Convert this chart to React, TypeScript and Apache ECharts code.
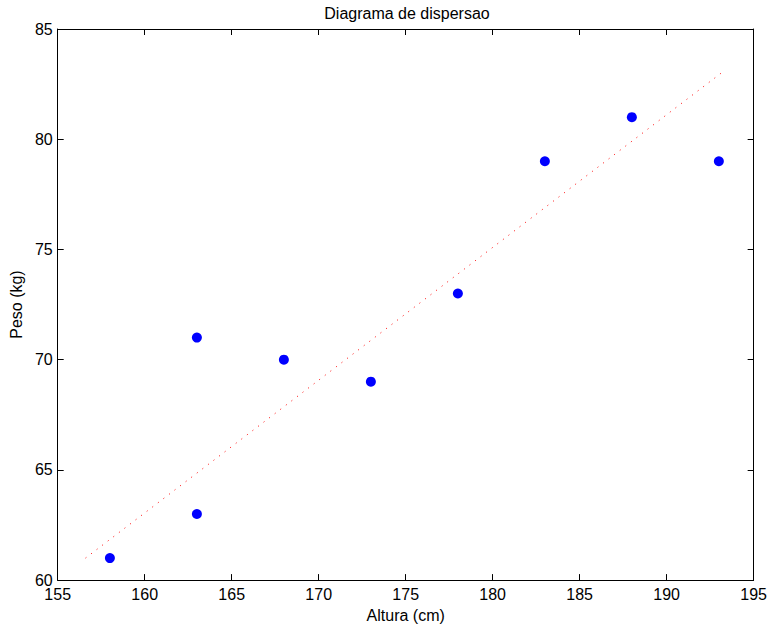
import React, { useEffect, useRef } from "react";
import * as echarts from "echarts";

const alturas = [158, 163, 163, 168, 173, 178, 183, 188, 193];
const pesos = [61, 71, 63, 70, 69, 73, 79, 81, 79];
const fitX = [156.6, 193.3];
const fitY = [61.0, 83.1];
const xTicks = [155, 160, 165, 170, 175, 180, 185, 190, 195];
const yTicks = [60, 65, 70, 75, 80, 85];

const FONT = "Liberation Sans, Arial, Helvetica, sans-serif";

export default function App() {
  const ref = useRef<HTMLDivElement>(null);
  useEffect(() => {
    if (!ref.current) return;
    const chart = echarts.init(ref.current, undefined, { renderer: "svg" });
    const axisBase = {
      axisLine: { show: true, lineStyle: { color: "#000", width: 1 } },
      axisTick: { show: true, inside: true, length: 6, lineStyle: { color: "#000" } },
      splitLine: { show: false },
    };
    const xMin = xTicks[0], xMax = xTicks[xTicks.length - 1];
    const yMin = yTicks[0], yMax = yTicks[yTicks.length - 1];
    chart.setOption({
      animation: false,
      backgroundColor: "#fff",
      textStyle: { fontFamily: FONT },
      graphic: [
        {
          type: "text",
          x: 407,
          y: 13,
          style: {
            text: "Diagrama de dispersao",
            fontFamily: FONT,
            fontSize: 16,
            fill: "#000",
            align: "center",
            verticalAlign: "middle",
          },
        },
      ],
      grid: { left: 54, right: 13, top: 29, bottom: 45, containLabel: false },
      xAxis: [
        {
          ...axisBase,
          type: "value",
          position: "bottom",
          min: xMin,
          max: xMax,
          interval: 5,
          name: "Altura (cm)",
          nameLocation: "middle",
          nameGap: 26,
          nameTextStyle: { fontFamily: FONT, fontSize: 16, color: "#000" },
          axisLabel: { fontFamily: FONT, fontSize: 16, color: "#000", margin: 6 },
        },
        {
          ...axisBase,
          type: "value",
          position: "top",
          min: xMin,
          max: xMax,
          interval: 5,
          axisLabel: { show: false },
        },
      ],
      yAxis: [
        {
          ...axisBase,
          type: "value",
          position: "left",
          min: yMin,
          max: yMax,
          interval: 5,
          name: "Peso (kg)",
          nameLocation: "middle",
          nameRotate: 90,
          nameGap: 27,
          nameTextStyle: { fontFamily: FONT, fontSize: 16, color: "#000" },
          axisLabel: { fontFamily: FONT, fontSize: 16, color: "#000", margin: 5 },
        },
        {
          ...axisBase,
          type: "value",
          position: "right",
          min: yMin,
          max: yMax,
          interval: 5,
          axisLabel: { show: false },
        },
      ],
      series: [
        {
          type: "line",
          xAxisIndex: 0,
          yAxisIndex: 0,
          data: fitX.map((x, i) => [x, fitY[i]]),
          symbol: "none",
          lineStyle: { color: "#ff0000", width: 1, type: [1, 6] },
          z: 1,
        },
        {
          type: "scatter",
          xAxisIndex: 0,
          yAxisIndex: 0,
          data: alturas.map((x, i) => [x, pesos[i]]),
          symbol: "circle",
          symbolSize: 10,
          itemStyle: { color: "#0000ff", opacity: 1 },
          z: 2,
        },
      ],
    });
    return () => chart.dispose();
  }, []);
  return (
    <div
      ref={ref}
      style={{ position: "absolute", left: 0, top: 0, width: 770, height: 628, background: "#fff" }}
    />
  );
}
